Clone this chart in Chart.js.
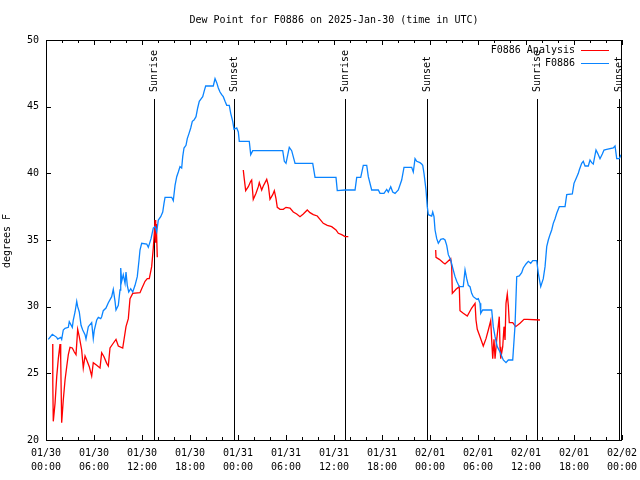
<!DOCTYPE html>
<html>
<head>
<meta charset="utf-8">
<title>Dew Point for F0886</title>
<script src="https://cdn.jsdelivr.net/npm/chart.js@4.4.1/dist/chart.umd.min.js"></script>
<style>
    body { margin: 0; background: #fff; }
    canvas { display: block; }
</style>
</head>
<body>
<canvas id="dew-chart" width="640" height="480"></canvas>
<script>
// Наблюдения F0886: часы от 01/30 00:00 UTC и точка росы (F)
const blueHours = [0.29, 0.79, 1.34, 1.46, 1.84, 1.96, 2.16, 2.38, 2.79, 2.91, 3.29, 3.41, 3.63, 3.84, 3.96,
    4.16, 4.38, 4.59, 4.88, 5.0, 5.29, 5.71, 5.91, 6.04, 6.34, 6.54, 6.84, 6.96, 7.16, 7.5, 7.79, 8.21,
    8.41, 8.63, 8.75, 9.04, 9.25, 9.34, 9.46, 9.66, 9.88, 10.0, 10.16, 10.34, 10.59, 10.84, 11.13, 11.41,
    11.63, 11.75, 11.96, 12.59, 12.79, 13.13, 13.41, 13.63, 13.84, 14.04, 14.34, 14.59, 14.75, 14.88,
    15.71, 15.91, 16.13, 16.34, 16.54, 16.75, 16.96, 17.09, 17.25, 17.5, 17.66, 17.88, 18.09, 18.29,
    18.5, 18.75, 18.96, 19.16, 19.34, 19.59, 19.79, 19.96, 20.91, 21.13, 21.34, 21.54, 21.75, 21.96,
    22.16, 22.38, 22.59, 22.91, 23.09, 23.34, 23.5, 23.84, 24.04, 24.16, 25.41, 25.59, 25.84, 29.59,
    29.79, 30.0, 30.41, 30.71, 31.13, 33.34, 33.63, 36.25, 36.41, 37.38, 38.63, 38.84, 39.34, 39.66,
    40.09, 40.29, 40.71, 41.54, 41.75, 42.25, 42.59, 42.79, 43.09, 43.34, 43.63, 44.04, 44.46, 44.75,
    45.71, 45.91, 46.13, 46.34, 46.75, 46.96, 47.09, 47.25, 47.5, 47.66, 47.79, 48.21, 48.34, 48.5,
    48.63, 48.84, 49.04, 49.34, 49.66, 49.88, 50.09, 50.29, 50.59, 50.84, 51.13, 51.34, 51.66, 52.16,
    52.38, 52.59, 52.79, 53.0, 53.21, 53.41, 53.84, 54.04, 54.25, 54.34, 54.59, 55.71, 55.91, 56.13,
    56.41, 56.75, 57.16, 57.5, 57.79, 58.34, 58.63, 58.84, 59.16, 59.46, 59.66, 60.0, 60.29, 60.59,
    60.84, 61.34, 61.54, 61.84, 62.16, 62.38, 62.59, 62.79, 63.0, 63.21, 63.41, 63.63, 63.84, 64.16,
    64.88, 65.09, 65.79, 66.0, 66.25, 66.54, 66.66, 66.96, 67.16, 67.38, 67.79, 68.0, 68.21, 68.41,
    68.75, 68.96, 69.25, 69.54, 69.75, 70.09, 70.91, 71.13, 71.34, 71.66, 71.88];
const blueDew = [27.55, 27.93, 27.7, 27.57, 27.7, 27.55, 28.25, 28.38, 28.45, 28.87, 28.45, 29.0, 29.6, 30.4, 30.0,
    29.6, 28.6, 28.25, 27.9, 27.57, 28.5, 28.8, 27.6, 28.25, 29.0, 29.2, 29.1, 29.25, 29.7, 29.9, 30.3, 30.75,
    31.3, 30.4, 29.75, 30.1, 31.25, 32.9, 31.9, 32.4, 31.75, 32.6, 31.6, 31.1, 31.35, 31.1, 31.6, 32.25,
    33.5, 34.25, 34.75, 34.7, 34.45, 35.1, 35.9, 36.0, 35.6, 36.5, 36.75, 37.1, 37.75, 38.2,
    38.2, 37.95, 39.1, 39.75, 40.1, 40.5, 40.4, 41.25, 41.9, 42.1, 42.6, 43.0, 43.4, 43.9,
    44.0, 44.25, 44.9, 45.4, 45.55, 45.75, 46.2, 46.55, 46.55, 47.1, 46.8, 46.4, 46.1, 45.9,
    45.75, 45.4, 45.1, 45.1, 44.5, 43.9, 43.3, 43.4, 43.1, 42.4, 42.4, 41.4, 41.7, 41.7,
    40.9, 40.75, 41.95, 41.7, 40.75, 40.75, 39.7, 39.7, 38.7, 38.75, 38.75, 39.7, 39.7, 40.6,
    40.6, 39.75, 38.75, 38.75, 38.5, 38.5, 38.8, 38.6, 39.0, 38.6, 38.5, 38.75, 39.5, 40.45,
    40.45, 40.1, 41.1, 40.9, 40.8, 40.7, 40.6, 40.0, 38.75, 37.5, 36.9, 36.8, 37.1, 36.75,
    35.75, 35.1, 34.75, 35.05, 35.1, 35.0, 34.6, 33.9, 33.5, 32.9, 32.25, 31.9, 31.5, 31.5,
    32.75, 32.1, 31.6, 31.5, 31.0, 30.75, 30.55, 30.6, 30.25, 29.5, 29.75, 29.75, 28.5, 27.75,
    27.0, 26.6, 26.0, 25.8, 26.0, 26.0, 28.6, 32.25, 32.3, 32.55, 32.9, 33.2, 33.4, 33.25,
    33.45, 33.45, 32.5, 31.5, 32.1, 33.0, 34.5, 35.0, 35.4, 35.75, 36.25, 36.6, 37.0, 37.5,
    37.5, 38.4, 38.45, 39.25, 39.6, 40.0, 40.25, 40.75, 40.9, 40.55, 40.55, 41.0, 40.8, 40.7,
    41.75, 41.5, 41.1, 41.45, 41.75, 41.8, 41.9, 42.05, 41.1, 41.1, 41.4];

// Анализ F0886 (null — разрыв линии)
const redHours = [0.84, 0.85, 0.91, 1.13, 1.34, 1.54, 1.75, 1.84, 1.96, 2.16, 2.38, 2.59, 2.79, 3.0, 3.29,
    3.54, 3.75, 3.96, 4.16, 4.46, 4.66, 4.88, 5.09, 5.41, 5.71, 5.91, 6.34, 6.75, 6.96, 7.25, 7.59,
    7.79, 8.0, 8.34, 8.75, 9.04, 9.59, 10.0, 10.29, 10.5, 10.84, 11.75, 11.96, 12.38, 12.66, 12.91,
    13.21, 13.41, 13.54, 13.63, 13.71, 13.79, 13.91,
    19.0,
    24.66, 24.75, 24.96, 25.29, 25.59, 25.71, 25.91, 26.25, 26.54, 26.66, 26.96, 27.16, 27.59, 27.79,
    28.0, 28.34, 28.54, 28.75, 28.91, 29.25, 29.66, 30.0, 30.5, 30.91, 31.34, 31.75, 32.16, 32.66,
    33.0, 33.41, 33.91, 34.25, 34.66, 35.16, 35.71, 36.25, 36.54, 36.96, 37.38, 37.79,
    43.0,
    48.71, 48.75, 49.16, 49.66, 49.88, 50.59, 50.71, 50.79, 51.25, 51.66, 51.75, 52.16, 52.66, 53.21,
    53.63, 53.75, 53.91, 54.25, 54.66, 55.0, 55.29, 55.59, 55.71, 55.84, 56.0, 56.13, 56.34, 56.54,
    56.66, 56.75, 56.84, 57.09, 57.25, 57.38, 57.5, 57.66, 57.79, 57.91, 58.34, 58.71, 59.25, 59.75,
    60.16, 61.75];
const redDew = [27.2, 24.3, 21.4, 22.75, 24.75, 26.1, 27.2, 26.0, 21.3, 23.0, 24.5, 25.5, 26.4, 26.95, 26.9,
    26.6, 26.4, 28.3, 27.75, 26.75, 25.4, 26.3, 26.0, 25.5, 24.8, 25.8, 25.6, 25.4, 26.55, 26.25, 25.75,
    25.55, 26.9, 27.2, 27.55, 27.05, 26.9, 28.5, 29.1, 30.6, 31.0, 31.05, 31.35, 31.9, 32.1, 32.1,
    33.0, 34.4, 35.5, 36.5, 34.8, 36.2, 33.7,
    null,
    40.25, 39.75, 38.7, 39.0, 39.4, 39.5, 38.05, 38.5, 39.0, 39.3, 38.75, 39.05, 39.55, 39.1,
    38.05, 38.4, 38.7, 38.1, 37.45, 37.3, 37.3, 37.45, 37.4, 37.1, 36.95, 36.75, 36.95, 37.25,
    37.05, 36.9, 36.8, 36.55, 36.25, 36.1, 36.0, 35.75, 35.5, 35.4, 35.25, 35.25,
    null,
    34.25, 33.7, 33.55, 33.3, 33.2, 33.6, 33.0, 31.0, 31.3, 31.5, 29.7, 29.5, 29.3, 29.9,
    30.25, 29.0, 28.3, 27.75, 27.05, 27.6, 28.25, 28.95, 27.5, 26.1, 27.55, 26.1, 27.55, 28.6,
    29.25, 27.0, 26.1, 27.0, 28.5, 27.5, 30.25, 30.95, 30.1, 28.8, 28.8, 28.5, 28.75, 29.05,
    29.05, 29.0];

// Подписи осей
const xTickHours = [0, 6, 12, 18, 24, 30, 36, 42, 48, 54, 60, 66, 72];
const xTickDates = ['01/30', '01/30', '01/30', '01/30', '01/31', '01/31', '01/31', '01/31',
    '02/01', '02/01', '02/01', '02/01', '02/02'];
const xTickTimes = ['00:00', '06:00', '12:00', '18:00', '00:00', '06:00', '12:00', '18:00',
    '00:00', '06:00', '12:00', '18:00', '00:00'];
const yTicks = [20, 25, 30, 35, 40, 45, 50];

// Восход и закат
const sunHours = [13.53, 23.55, 37.43, 47.58, 61.42, 71.6];
const sunLabels = ['Sunrise', 'Sunset', 'Sunrise', 'Sunset', 'Sunrise', 'Sunset'];

const FONT = '10px "DejaVu Sans Mono", "Liberation Mono", monospace';
const RED = '#ff0000';
const BLUE = '#0a84ff';

const toPoints = (hours, values) => hours.map((h, i) => ({ x: h, y: values[i] }));

// Рамка, засечки и подписи в стиле gnuplot
const gnuplotDecor = {
    id: 'gnuplotDecor',
    beforeDatasetsDraw(chart) {
        const ctx = chart.ctx;
        const xs = chart.scales.x;
        const area = chart.chartArea;
        ctx.save();
        ctx.strokeStyle = '#000';
        ctx.lineWidth = 1;
        ctx.fillStyle = '#000';
        ctx.font = FONT;
        sunHours.forEach((h, i) => {
            const x = Math.round(xs.getPixelForValue(h)) + 0.5;
            ctx.beginPath();
            ctx.moveTo(x, 99);
            ctx.lineTo(x, area.bottom);
            ctx.stroke();

            ctx.save();
            ctx.translate(x, 92);
            ctx.rotate(-Math.PI / 2);
            ctx.textAlign = 'left';
            ctx.textBaseline = 'middle';
            ctx.fillText(sunLabels[i], 0, 0);
            ctx.restore();
        });
        ctx.restore();
    },
    afterDraw(chart) {
        const ctx = chart.ctx;
        const xs = chart.scales.x;
        const ys = chart.scales.y;
        const area = chart.chartArea;
        ctx.save();
        ctx.strokeStyle = '#000';
        ctx.fillStyle = '#000';
        ctx.lineWidth = 1;
        ctx.font = FONT;

        // рамка
        ctx.strokeRect(area.left + 0.5, area.top + 0.5, area.right - area.left - 1, area.bottom - area.top);

        // засечки по X: каждые 2 часа, крупные каждые 6
        ctx.beginPath();
        for (let h = 0; h <= 72; h += 2) {
            const x = Math.round(xs.getPixelForValue(h)) + 0.5;
            const len = h % 6 === 0 ? 5 : 3;
            ctx.moveTo(x, area.bottom);
            ctx.lineTo(x, area.bottom - len);
            ctx.moveTo(x, area.top);
            ctx.lineTo(x, area.top + len);
        }
        // засечки по Y
        yTicks.forEach(v => {
            const y = Math.round(ys.getPixelForValue(v)) + 0.5;
            ctx.moveTo(area.left, y);
            ctx.lineTo(area.left + 5, y);
            ctx.moveTo(area.right, y);
            ctx.lineTo(area.right - 5, y);
        });
        ctx.stroke();

        ctx.textAlign = 'center';
        ctx.textBaseline = 'middle';
        xTickHours.forEach((h, i) => {
            const x = xs.getPixelForValue(h);
            ctx.fillText(xTickDates[i], x, 453);
            ctx.fillText(xTickTimes[i], x, 467);
        });

        ctx.textAlign = 'right';
        yTicks.forEach(v => {
            ctx.fillText(String(v), 39, ys.getPixelForValue(v));
        });

        // заголовок
        ctx.textAlign = 'center';
        ctx.fillText('Dew Point for F0886 on 2025-Jan-30 (time in UTC)', (area.left + area.right) / 2, 20);

        // подпись оси Y
        ctx.save();
        ctx.translate(7, 241);
        ctx.rotate(-Math.PI / 2);
        ctx.fillText('degrees F', 0, 0);
        ctx.restore();

        // легенда
        const legend = [['F0886 Analysis', RED, 50], ['F0886', BLUE, 63]];
        legend.forEach(([text, color, y]) => {
            ctx.fillStyle = '#000';
            ctx.textAlign = 'right';
            ctx.fillText(text, 575, y);
            ctx.strokeStyle = color;
            ctx.beginPath();
            ctx.moveTo(581, y + 0.5);
            ctx.lineTo(609, y + 0.5);
            ctx.stroke();
        });
        ctx.restore();
    }
};

const chart = new Chart(document.getElementById('dew-chart'), {
    type: 'line',
    data: {
        datasets: [
            {
                label: 'F0886 Analysis',
                data: toPoints(redHours, redDew),
                borderColor: RED,
                borderWidth: 1.3,
                pointRadius: 0,
                tension: 0,
                spanGaps: false,
                order: 2
            },
            {
                label: 'F0886',
                data: toPoints(blueHours, blueDew),
                borderColor: BLUE,
                borderWidth: 1.3,
                pointRadius: 0,
                tension: 0,
                order: 1
            }
        ]
    },
    options: {
        responsive: false,
        animation: false,
        layout: { padding: { left: 46, right: 18, top: 40, bottom: 40 } },
        scales: {
            x: { type: 'linear', min: 0, max: 72, display: false },
            y: { min: 20, max: 50, display: false }
        },
        plugins: {
            legend: { display: false },
            tooltip: { enabled: false },
            title: { display: false }
        }
    },
    plugins: [gnuplotDecor]
});
</script>
</body>
</html>
